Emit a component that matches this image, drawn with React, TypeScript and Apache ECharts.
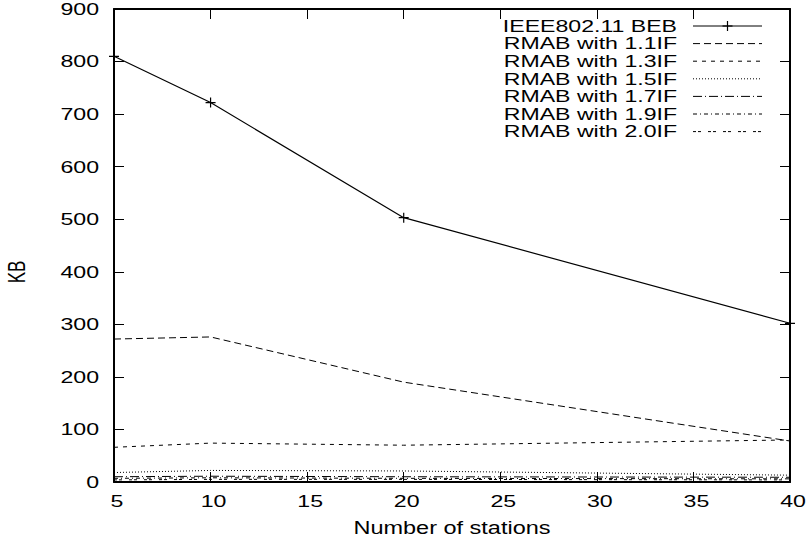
import React, { useEffect, useRef } from "react";
import * as echarts from "echarts";

const stations = [5, 10, 20, 40];
const bebValues = [810, 722, 503, 302];
const rmab11 = [272, 276, 190, 78];
const rmab13 = [66, 74, 70, 80];
const rmab15 = [18, 22, 21, 13];
const rmab17 = [10, 11, 10, 9];
const rmab19 = [7, 8, 7, 6];
const rmab20 = [4, 5, 5, 4];

const xTicks = [5, 10, 15, 20, 25, 30, 35, 40];
const yTicks = [0, 100, 200, 300, 400, 500, 600, 700, 800, 900];

const seriesNames = [
  "IEEE802.11 BEB",
  "RMAB with 1.1IF",
  "RMAB with 1.3IF",
  "RMAB with 1.5IF",
  "RMAB with 1.7IF",
  "RMAB with 1.9IF",
  "RMAB with 2.0IF",
];
const seriesValues = [bebValues, rmab11, rmab13, rmab15, rmab17, rmab19, rmab20];
const dashes: (number[] | null)[] = [
  null,
  [7, 4],
  [4, 5],
  [1, 2],
  [9, 3, 1, 3],
  [4, 3, 1, 3],
  [3, 2, 3, 7],
];

const FONT = "'Liberation Sans', Arial, Helvetica, sans-serif";
const SX = 1.36;
const PLUS = "path://M0,4.4h10v1.2h-10z M4.4,0h1.2v10h-1.2z";

export default function App() {
  const ref = useRef<HTMLDivElement>(null);
  useEffect(() => {
    if (!ref.current) return;
    const chart = echarts.init(ref.current, undefined, { renderer: "svg" });
    const axisCommon = {
      type: "value" as const,
      axisLine: { show: true, onZero: false, lineStyle: { color: "#000", width: 2 } },
      axisTick: { show: true, inside: true, length: 10, lineStyle: { color: "#000", width: 1 } },
      axisLabel: { show: false },
      splitLine: { show: false },
    };
    const option: any = {
      animation: false,
      backgroundColor: "#fff",
      grid: { left: 114, right: 17, top: 9, bottom: 61, containLabel: false },
      xAxis: [
        { ...axisCommon, position: "bottom", min: 5, max: 40, interval: 5 },
        { ...axisCommon, position: "top", min: 5, max: 40, interval: 5 },
      ],
      yAxis: [
        { ...axisCommon, position: "left", min: 0, max: 900, interval: 100 },
        { ...axisCommon, position: "right", min: 0, max: 900, interval: 100 },
      ],
      series: seriesNames.map((name, i) => ({
        name,
        type: "line",
        xAxisIndex: 0,
        yAxisIndex: 0,
        data: stations.map((s, k) => [s, seriesValues[i][k]]),
        showSymbol: i === 0,
        symbol: i === 0 ? PLUS : "none",
        symbolSize: 10,
        itemStyle: { color: "#000" },
        lineStyle: {
          color: "#000",
          width: i === 0 ? 1.2 : 1,
          type: dashes[i] ? dashes[i] : "solid",
        },
        clip: false,
        z: 2,
      })),
    };
    chart.setOption(option);

    const g: any[] = [];
    yTicks.forEach((v) => {
      const py = chart.convertToPixel({ yAxisIndex: 0 }, v) as number;
      g.push({
        type: "text",
        x: 99,
        y: py,
        scaleX: SX,
        silent: true,
        style: { text: String(v), fontSize: 17, fontFamily: FONT, fill: "#000", align: "right", verticalAlign: "middle" },
      });
    });
    xTicks.forEach((v) => {
      const px = chart.convertToPixel({ xAxisIndex: 0 }, v) as number;
      g.push({
        type: "text",
        x: px + 3,
        y: 501,
        scaleX: SX,
        silent: true,
        style: { text: String(v), fontSize: 17, fontFamily: FONT, fill: "#000", align: "center", verticalAlign: "middle" },
      });
    });
    g.push({
      type: "text",
      x: 452,
      y: 527,
      scaleX: 1.27,
      silent: true,
      style: { text: "Number of stations", fontSize: 18.5, fontFamily: FONT, fill: "#000", align: "center", verticalAlign: "middle" },
    });
    g.push({
      type: "text",
      x: 16,
      y: 272,
      rotation: Math.PI / 2,
      scaleY: 1.38,
      silent: true,
      style: { text: "KB", fontSize: 17, fontFamily: FONT, fill: "#000", align: "center", verticalAlign: "middle" },
    });
    seriesNames.forEach((name, i) => {
      const y = 26 + i * 17.6;
      g.push({
        type: "text",
        x: 677,
        y,
        scaleX: 1.4,
        silent: true,
        style: { text: name, fontSize: 16.5, fontFamily: FONT, fill: "#000", align: "right", verticalAlign: "middle" },
      });
      g.push({
        type: "line",
        silent: true,
        shape: { x1: 693, y1: y, x2: 762, y2: y },
        style: { stroke: "#000", lineWidth: 1, lineDash: dashes[i] || null },
      });
      if (i === 0) {
        g.push({
          type: "line",
          silent: true,
          shape: { x1: 722.5, y1: y, x2: 732.5, y2: y },
          style: { stroke: "#000", lineWidth: 1.2 },
        });
        g.push({
          type: "line",
          silent: true,
          shape: { x1: 727.5, y1: y - 5, x2: 727.5, y2: y + 5 },
          style: { stroke: "#000", lineWidth: 1.2 },
        });
      }
    });
    chart.setOption({ graphic: g });
    return () => chart.dispose();
  }, []);
  return (
    <div
      ref={ref}
      style={{ position: "fixed", left: 0, top: 0, width: 807, height: 543, background: "#fff" }}
    />
  );
}
